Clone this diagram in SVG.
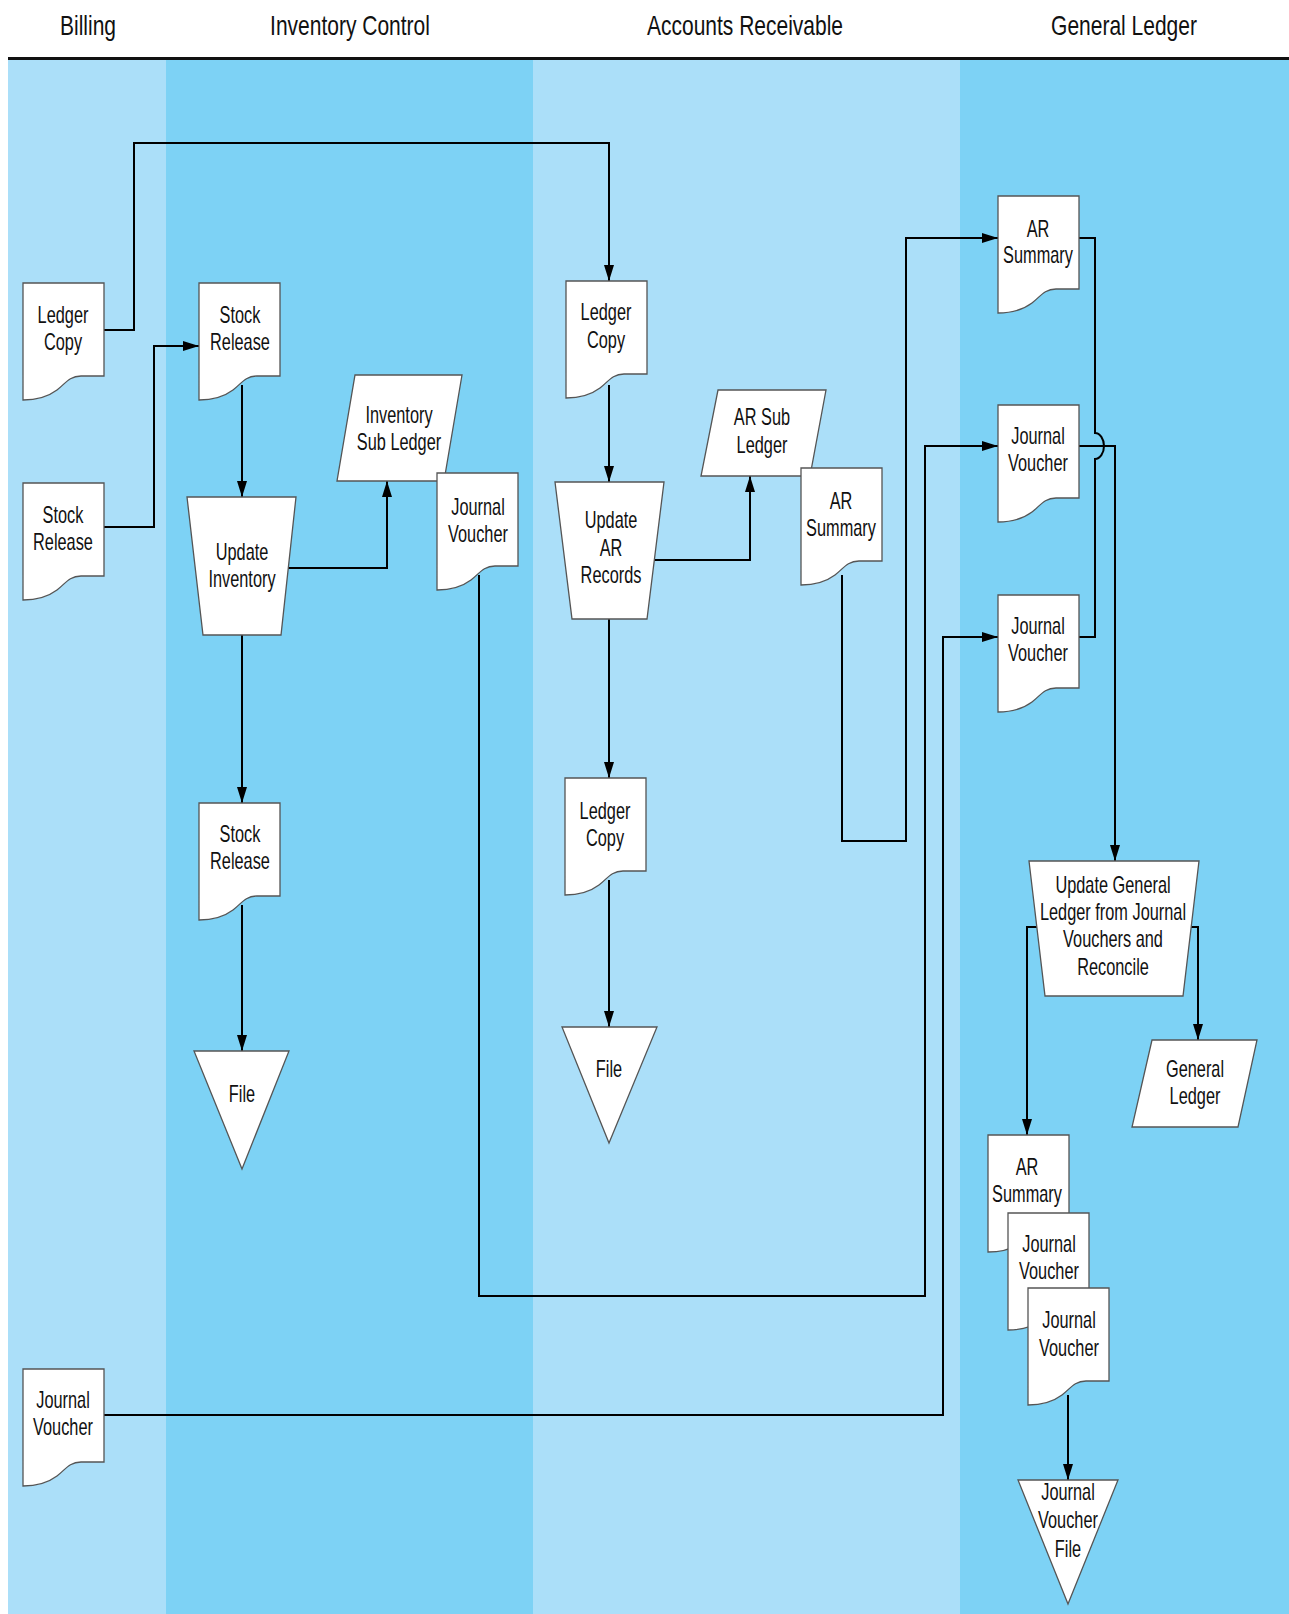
<svg xmlns="http://www.w3.org/2000/svg" width="1289" height="1614" viewBox="0 0 1289 1614">
<defs>
<style>
.lane-l{fill:#ABDFF9}
.lane-d{fill:#7DD2F5}
.hdr{font-family:"Liberation Sans",Arial,sans-serif;font-size:28px;fill:#111;text-anchor:middle}
.t{font-family:"Liberation Sans",Arial,sans-serif;font-size:23px;fill:#111;text-anchor:middle}
.shape{fill:#fff;stroke:#555;stroke-width:1.3}
.conn{fill:none;stroke:#000;stroke-width:2}
</style>
<marker id="arr" viewBox="0 0 16 10" refX="16" refY="5" markerWidth="16" markerHeight="10" markerUnits="userSpaceOnUse" orient="auto">
<path d="M0,0 L16,5 L0,10 z" fill="#000"/>
</marker>
<path id="doc" d="M0,0 H81 V93 H58 C46,93 42,101 34,107 C26,113 16,117 0,117 Z"/>
</defs>
<rect x="0" y="0" width="1289" height="1614" fill="#fff"/>
<g id="lanes">
<rect class="lane-l" x="8" y="60" width="158" height="1554"/>
<rect class="lane-d" x="166" y="60" width="367" height="1554"/>
<rect class="lane-l" x="533" y="60" width="427" height="1554"/>
<rect class="lane-d" x="960" y="60" width="329" height="1554"/>
<line x1="8" y1="58.5" x2="1289" y2="58.5" stroke="#111" stroke-width="3"/>
<text class="hdr" transform="translate(88,0) scale(0.75,1)" y="35">Billing</text>
<text class="hdr" transform="translate(350,0) scale(0.75,1)" y="35">Inventory Control</text>
<text class="hdr" transform="translate(745,0) scale(0.75,1)" y="35">Accounts Receivable</text>
<text class="hdr" transform="translate(1124,0) scale(0.75,1)" y="35">General Ledger</text>
</g>
<g id="connectors">
<path class="conn" d="M103,330 H134 V143 H609 V281" marker-end="url(#arr)"/>
<path class="conn" d="M103,527 H154 V346 H199" marker-end="url(#arr)"/>
<path class="conn" d="M242,385 V497" marker-end="url(#arr)"/>
<path class="conn" d="M288,568 H387 V481" marker-end="url(#arr)"/>
<path class="conn" d="M242,635 V803" marker-end="url(#arr)"/>
<path class="conn" d="M242,905 V1051" marker-end="url(#arr)"/>
<path class="conn" d="M479,575 V1296 H925 V446 H998" marker-end="url(#arr)"/>
<path class="conn" d="M609,385 V482" marker-end="url(#arr)"/>
<path class="conn" d="M654,560 H750 V476" marker-end="url(#arr)"/>
<path class="conn" d="M609,619 V778" marker-end="url(#arr)"/>
<path class="conn" d="M609,880 V1027" marker-end="url(#arr)"/>
<path class="conn" d="M842,575 V841 H906 V238 H998" marker-end="url(#arr)"/>
<path class="conn" d="M1079,238 H1095 V433 A9,13 0 0 1 1095,459 V637 H1079"/>
<path class="conn" d="M1079,446 H1115 V861" marker-end="url(#arr)"/>
<path class="conn" d="M1037,927 H1027 V1135" marker-end="url(#arr)"/>
<path class="conn" d="M1191,927 H1198 V1040" marker-end="url(#arr)"/>
<path class="conn" d="M1068,1395 V1480" marker-end="url(#arr)"/>
<path class="conn" d="M103,1415 H943 V637 H998" marker-end="url(#arr)"/>
</g>
<g id="billing-ledger-copy">
<use href="#doc" class="shape" x="23" y="283"/>
<text class="t" transform="translate(63,0) scale(0.71,1)"><tspan x="0" y="323">Ledger</tspan><tspan x="0" y="350">Copy</tspan></text>
</g>
<g id="billing-stock-release">
<use href="#doc" class="shape" x="23" y="483"/>
<text class="t" transform="translate(63,0) scale(0.71,1)"><tspan x="0" y="523">Stock</tspan><tspan x="0" y="550">Release</tspan></text>
</g>
<g id="billing-journal-voucher">
<use href="#doc" class="shape" x="23" y="1369"/>
<text class="t" transform="translate(63,0) scale(0.71,1)"><tspan x="0" y="1408">Journal</tspan><tspan x="0" y="1435">Voucher</tspan></text>
</g>
<g id="inv-stock-release">
<use href="#doc" class="shape" x="199" y="283"/>
<text class="t" transform="translate(240,0) scale(0.71,1)"><tspan x="0" y="323">Stock</tspan><tspan x="0" y="350">Release</tspan></text>
</g>
<g id="update-inventory">
<polygon class="shape" points="187,497 296,497 281,635 203,635"/>
<text class="t" transform="translate(242,0) scale(0.71,1)"><tspan x="0" y="560">Update</tspan><tspan x="0" y="587">Inventory</tspan></text>
</g>
<g id="inventory-sub-ledger">
<polygon class="shape" points="355,375 462,375 444,481 337,481"/>
<text class="t" transform="translate(399,0) scale(0.71,1)"><tspan x="0" y="423">Inventory</tspan><tspan x="0" y="450">Sub Ledger</tspan></text>
</g>
<g id="inv-journal-voucher">
<use href="#doc" class="shape" x="437" y="473"/>
<text class="t" transform="translate(478,0) scale(0.71,1)"><tspan x="0" y="515">Journal</tspan><tspan x="0" y="542">Voucher</tspan></text>
</g>
<g id="inv-stock-release-2">
<use href="#doc" class="shape" x="199" y="803"/>
<text class="t" transform="translate(240,0) scale(0.71,1)"><tspan x="0" y="842">Stock</tspan><tspan x="0" y="869">Release</tspan></text>
</g>
<g id="inv-file">
<polygon class="shape" points="194,1051 289,1051 242,1169"/>
<text class="t" transform="translate(242,0) scale(0.71,1)"><tspan x="0" y="1102">File</tspan></text>
</g>
<g id="ar-ledger-copy">
<use href="#doc" class="shape" x="566" y="281"/>
<text class="t" transform="translate(606,0) scale(0.71,1)"><tspan x="0" y="320">Ledger</tspan><tspan x="0" y="348">Copy</tspan></text>
</g>
<g id="update-ar-records">
<polygon class="shape" points="555,482 664,482 647,619 572,619"/>
<text class="t" transform="translate(611,0) scale(0.71,1)"><tspan x="0" y="528">Update</tspan><tspan x="0" y="556">AR</tspan><tspan x="0" y="583">Records</tspan></text>
</g>
<g id="ar-sub-ledger">
<polygon class="shape" points="718,390 826,390 810,476 701,476"/>
<text class="t" transform="translate(762,0) scale(0.71,1)"><tspan x="0" y="425">AR Sub</tspan><tspan x="0" y="453">Ledger</tspan></text>
</g>
<g id="ar-summary">
<use href="#doc" class="shape" x="801" y="468"/>
<text class="t" transform="translate(841,0) scale(0.71,1)"><tspan x="0" y="509">AR</tspan><tspan x="0" y="536">Summary</tspan></text>
</g>
<g id="ar-ledger-copy-2">
<use href="#doc" class="shape" x="565" y="778"/>
<text class="t" transform="translate(605,0) scale(0.71,1)"><tspan x="0" y="819">Ledger</tspan><tspan x="0" y="846">Copy</tspan></text>
</g>
<g id="ar-file">
<polygon class="shape" points="562,1027 657,1027 609,1143"/>
<text class="t" transform="translate(609,0) scale(0.71,1)"><tspan x="0" y="1077">File</tspan></text>
</g>
<g id="gl-ar-summary">
<use href="#doc" class="shape" x="998" y="196"/>
<text class="t" transform="translate(1038,0) scale(0.71,1)"><tspan x="0" y="237">AR</tspan><tspan x="0" y="263">Summary</tspan></text>
</g>
<g id="gl-journal-voucher-1">
<use href="#doc" class="shape" x="998" y="405"/>
<text class="t" transform="translate(1038,0) scale(0.71,1)"><tspan x="0" y="444">Journal</tspan><tspan x="0" y="471">Voucher</tspan></text>
</g>
<g id="gl-journal-voucher-2">
<use href="#doc" class="shape" x="998" y="595"/>
<text class="t" transform="translate(1038,0) scale(0.71,1)"><tspan x="0" y="634">Journal</tspan><tspan x="0" y="661">Voucher</tspan></text>
</g>
<g id="update-general-ledger">
<polygon class="shape" points="1029,861 1199,861 1183,996 1045,996"/>
<text class="t" transform="translate(1113,0) scale(0.71,1)"><tspan x="0" y="893">Update General</tspan><tspan x="0" y="920">Ledger from Journal</tspan><tspan x="0" y="947">Vouchers and</tspan><tspan x="0" y="975">Reconcile</tspan></text>
</g>
<g id="general-ledger">
<polygon class="shape" points="1152,1040 1257,1040 1238,1127 1132,1127"/>
<text class="t" transform="translate(1195,0) scale(0.71,1)"><tspan x="0" y="1077">General</tspan><tspan x="0" y="1104">Ledger</tspan></text>
</g>
<g id="stack-ar-summary">
<use href="#doc" class="shape" x="988" y="1135"/>
<text class="t" transform="translate(1027,0) scale(0.71,1)"><tspan x="0" y="1175">AR</tspan><tspan x="0" y="1202">Summary</tspan></text>
</g>
<g id="stack-journal-voucher-a">
<use href="#doc" class="shape" x="1008" y="1213"/>
<text class="t" transform="translate(1049,0) scale(0.71,1)"><tspan x="0" y="1252">Journal</tspan><tspan x="0" y="1279">Voucher</tspan></text>
</g>
<g id="stack-journal-voucher-b">
<use href="#doc" class="shape" x="1028" y="1288"/>
<text class="t" transform="translate(1069,0) scale(0.71,1)"><tspan x="0" y="1328">Journal</tspan><tspan x="0" y="1356">Voucher</tspan></text>
</g>
<g id="journal-voucher-file">
<polygon class="shape" points="1018,1480 1118,1480 1068,1604"/>
<text class="t" transform="translate(1068,0) scale(0.71,1)"><tspan x="0" y="1500">Journal</tspan><tspan x="0" y="1528">Voucher</tspan><tspan x="0" y="1557">File</tspan></text>
</g>
</svg>
